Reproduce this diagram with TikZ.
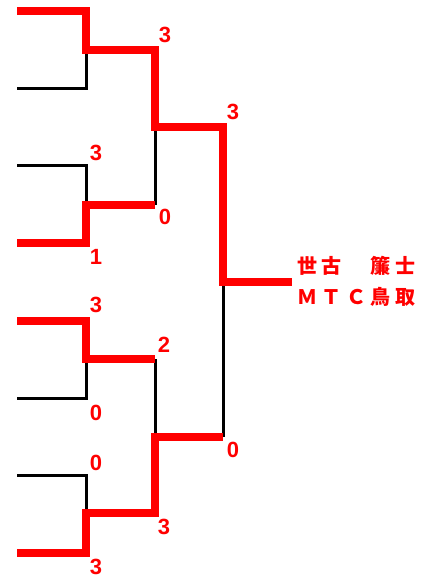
\documentclass[tikz,border=0pt]{standalone}
\usepackage{fontspec}
\setmainfont{Liberation Sans}
\newfontfamily\cjkfont{Noto Sans CJK JP}
\newcommand{\cgap}{\kern4.5pt}

\begin{document}
\begin{tikzpicture}[x=1pt,y=-1pt,
  win/.style={red,line width=8pt},
  lose/.style={black,line width=3pt},
  score/.style={text=red,inner sep=0pt,font=\fontsize{22}{22}\selectfont\bfseries},
  player/.style={text=red,inner sep=0pt,anchor=west,font=\cjkfont\bfseries\fontsize{20}{20}\selectfont}]
\useasboundingbox (0,0) rectangle (429,581);
%.............................
\coordinate (e1) at (17,11);
\coordinate (e2) at (17,88);
\coordinate (e3) at (17,165);
\coordinate (e4) at (17,243);
\coordinate (e5) at (17,321);
\coordinate (e6) at (17,398);
\coordinate (e7) at (17,475);
\coordinate (e8) at (17,553);
\coordinate (a1) at (86,50);
\coordinate (a2) at (86,205);
\coordinate (a3) at (86,359);
\coordinate (a4) at (86,513);
\coordinate (b1) at (155,127);
\coordinate (b2) at (155,437);
\coordinate (c1) at (223,282);
\coordinate (w) at (292,282);
%.............................
\draw[lose] (e2) -| (a1);
\draw[lose] (e3) -| (a2);
\draw[lose] (e6) -| (a3);
\draw[lose] (e7) -| (a4);
\draw[lose] (b1) -- (a2 -| b1);
\draw[lose] (a3 -| b2) -- (b2);
\draw[lose] (c1) -- (b2 -| c1);
%.............................
\draw[win] (e1) -| (a1) -| (b1) -| (c1) -- (w);
\draw[win] (e4) -| (a2) -- (a2 -| b1);
\draw[win] (e5) -| (a3) -- (a3 -| b2);
\draw[win] (e8) -| (a4) -| (b2) -- (b2 -| c1);
%.............................
\node[score] (s1) at (165,35) {3};
\node[score] (s2) at (96,153) {3};
\node[score] (s3) at (165,217) {0};
\node[score] (s4) at (96,257) {1};
\node[score] (s5) at (233,112) {3};
\node[score] (s6) at (96,305) {3};
\node[score] (s7) at (164,345) {2};
\node[score] (s8) at (96,413) {0};
\node[score] (s9) at (96,463) {0};
\node[score] (s10) at (233,450) {0};
\node[score] (s11) at (164,527) {3};
\node[score] (s12) at (96,567) {3};
%.............................
\node[player] (p1) at (297,266) {世\cgap 古\cgap 　\cgap 簾\cgap 士};
\node[player] (p2) at (297,297) {Ｍ\cgap Ｔ\cgap Ｃ\cgap 鳥\cgap 取};
\end{tikzpicture}
\end{document}
